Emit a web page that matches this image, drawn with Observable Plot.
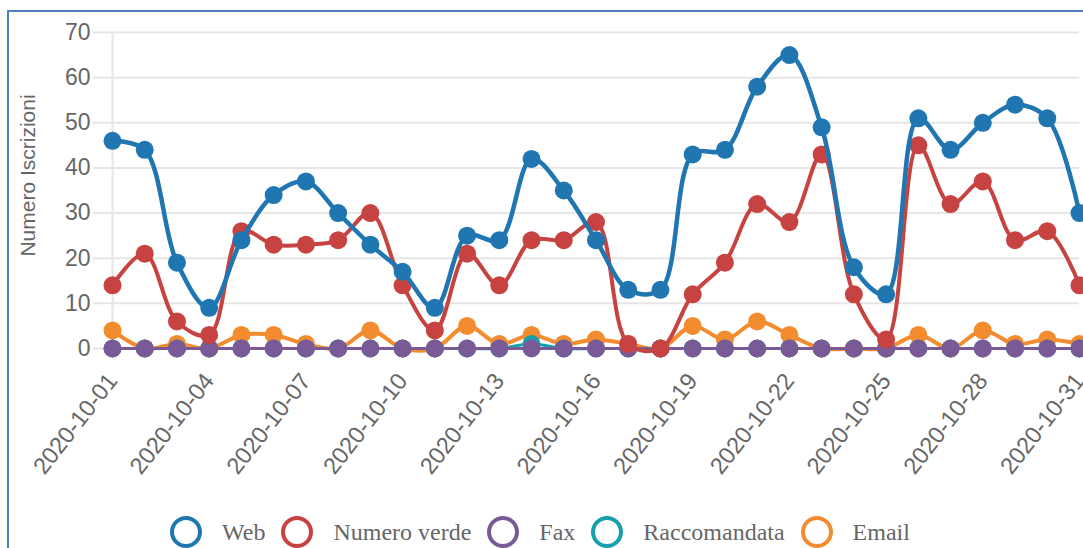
<!DOCTYPE html>
<html><head><meta charset="utf-8">
<script src="https://cdn.jsdelivr.net/npm/d3@7"></script>
<script src="https://cdn.jsdelivr.net/npm/@observablehq/plot@0.6"></script>
<style>
html,body{margin:0;padding:0;background:#fff;overflow:hidden;width:1083px;height:548px;}
#chart{position:absolute;left:0;top:0;}
#frame{position:absolute;left:7px;top:10px;width:1200px;height:700px;border:2px solid #4f81bd;pointer-events:none;}
#legend{position:absolute;top:515px;left:170px;height:34px;display:flex;align-items:center;font-family:"Liberation Serif","Times New Roman",serif;font-size:24px;color:#666;white-space:nowrap;}
#legend .item{display:flex;align-items:center;margin-right:16px;}
#legend svg{margin-right:20px;}
</style>
</head><body>
<div id="chart"></div>
<div id="legend"></div>
<div id="frame"></div>
<script>
const dates = ["2020-10-01","2020-10-02","2020-10-03","2020-10-04","2020-10-05","2020-10-06","2020-10-07","2020-10-08","2020-10-09","2020-10-10","2020-10-11","2020-10-12","2020-10-13","2020-10-14","2020-10-15","2020-10-16","2020-10-17","2020-10-18","2020-10-19","2020-10-20","2020-10-21","2020-10-22","2020-10-23","2020-10-24","2020-10-25","2020-10-26","2020-10-27","2020-10-28","2020-10-29","2020-10-30","2020-10-31"];
const xTickLabels = ["2020-10-01","2020-10-04","2020-10-07","2020-10-10","2020-10-13","2020-10-16","2020-10-19","2020-10-22","2020-10-25","2020-10-28","2020-10-31"];
const yTicks = [0,10,20,30,40,50,60,70];
const web   = [46,44,19,9,24,34,37,30,23,17,9,25,24,42,35,24,13,13,43,44,58,65,49,18,12,51,44,50,54,51,30];
const verde = [14,21,6,3,26,23,23,24,30,14,4,21,14,24,24,28,1,0,12,19,32,28,43,12,2,45,32,37,24,26,14];
const fax   = [0,0,0,0,0,0,0,0,0,0,0,0,0,0,0,0,0,0,0,0,0,0,0,0,0,0,0,0,0,0,0];
const racc  = [0,0,0,0,0,0,0,0,0,0,0,0,0,1,0,0,0,0,0,0,0,0,0,0,0,0,0,0,0,0,0];
const email = [4,0,1,0,3,3,1,0,4,0,0,5,1,3,1,2,1,0,5,2,6,3,0,0,0,3,0,4,1,2,1];
const seriesNames = ["Web","Numero verde","Fax","Raccomandata","Email"];
const seriesColors = ["#1f76b1","#c74341","#7a5a96","#17a0ab","#f38b2f"];
const seriesValues = [web, verde, fax, racc, email];

const parse = d3.utcParse("%Y-%m-%d");
const widths = {"Web":4.5,"Numero verde":4,"Fax":3,"Raccomandata":3,"Email":4};

const marks = [
  Plot.ruleY(yTicks, {stroke:"#e6e6e6", strokeWidth:2, insetLeft:-19}),
  Plot.ruleX([parse(dates[0])], {y1:0, y2:70, stroke:"#e6e6e6", strokeWidth:2}),
  Plot.axisY({ticks:yTicks, tickSize:0, tickPadding:22, fontSize:23, fill:"#666", label:null}),
  Plot.axisX({ticks:xTickLabels.map(parse), tickFormat:d3.utcFormat("%Y-%m-%d"), tickRotate:-52, tickSize:0, tickPadding:28, fontSize:23.5, fill:"#666", label:null}),
  Plot.text(["Numero Iscrizioni"], {frameAnchor:"left", textAnchor:"middle", dx:-84, dy:-15, rotate:-90, fontSize:21, fill:"#666"})
];
// draw in reverse order so the first series is on top
for (let i = seriesNames.length - 1; i >= 0; i--) {
  const rows = dates.map((d, j) => ({date: parse(d), value: seriesValues[i][j]}));
  marks.push(Plot.line(rows, {x:"date", y:"value", stroke:seriesColors[i], strokeWidth:widths[seriesNames[i]], curve:"catmull-rom"}));
  marks.push(Plot.dot(rows, {x:"date", y:"value", r:9, fill:seriesColors[i], stroke:"none"}));
}

const chart = Plot.plot({
  width:1083, height:500,
  marginLeft:112, marginRight:4, marginTop:32, marginBottom:152,
  x:{type:"utc", domain:[parse(dates[0]), parse(dates[dates.length-1])]},
  y:{domain:[0,70]},
  style:{background:"transparent", fontFamily:"'Liberation Sans', Arial, sans-serif", overflow:"visible"},
  marks
});
document.getElementById("chart").appendChild(chart);

const legend = document.getElementById("legend");
seriesNames.forEach((name, i) => {
  const item = document.createElement("div");
  item.className = "item";
  item.innerHTML = `<svg width="32" height="32"><circle cx="16" cy="16" r="14" fill="none" stroke="${seriesColors[i]}" stroke-width="4"/></svg><span>${name}</span>`;
  legend.appendChild(item);
});
</script>
</body></html>
